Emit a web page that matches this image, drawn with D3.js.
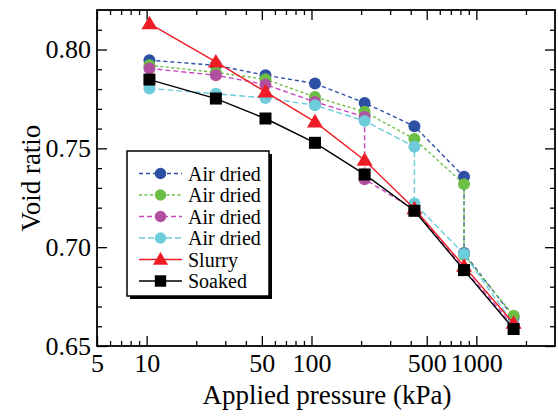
<!DOCTYPE html>
<html>
<head>
<meta charset="utf-8">
<script src="https://cdn.jsdelivr.net/npm/d3@7"></script>
<style>
  html, body { margin: 0; padding: 0; background: #fff; }
  svg { display: block; }
  text { font-family: "Liberation Serif", "Times New Roman", serif; fill: #000; }
</style>
</head>
<body>
<svg id="chart" width="558" height="416"></svg>
<script>
// Void ratio vs applied pressure for each sample preparation
const pressures = [10.4, 26.3, 52.6, 105, 210, 421, 842, 1683];

// Air-dried samples: each one collapses (vertical drop) when soaked at one load step
const airDried1P = [10.4, 26.3, 52.6, 105, 210, 421, 842, 842, 1683];
const airDried1E = [0.7946, 0.792, 0.787, 0.7828, 0.773, 0.7612, 0.7356, 0.697, 0.6645];

const airDried2P = [10.4, 26.3, 52.6, 105, 210, 421, 842, 842, 1683];
const airDried2E = [0.792, 0.7884, 0.785, 0.776, 0.7685, 0.7547, 0.7319, 0.696, 0.6653];

const airDried3P = [10.4, 26.3, 52.6, 105, 210, 210, 421, 842, 1683];
const airDried3E = [0.7904, 0.787, 0.7823, 0.7735, 0.7659, 0.7344, 0.719, 0.689, 0.660];

const airDried4P = [10.4, 26.3, 52.6, 105, 210, 421, 421, 842, 1683];
const airDried4E = [0.7803, 0.7776, 0.7755, 0.7718, 0.7639, 0.7508, 0.7221, 0.6965, 0.661];

const slurryE = [0.8131, 0.7937, 0.7786, 0.7634, 0.744, 0.7195, 0.6904, 0.6615];
const soakedE = [0.7848, 0.7752, 0.7651, 0.7528, 0.7368, 0.7184, 0.6884, 0.6586];

const seriesNames = ["Air dried", "Air dried", "Air dried", "Air dried", "Slurry", "Soaked"];

const xMajorTicks = [5, 10, 50, 100, 500, 1000];
const xMinorTicks = [6, 7, 8, 9, 20, 30, 40, 60, 70, 80, 90, 200, 300, 400, 600, 700, 800, 900, 2000];
const yMajorTicks = [0.65, 0.70, 0.75, 0.80];
const yMinorTicks = [0.66, 0.67, 0.68, 0.69, 0.71, 0.72, 0.73, 0.74, 0.76, 0.77, 0.78, 0.79, 0.81];

const series = [
  { name: seriesNames[0], p: airDried1P, e: airDried1E, color: "#2E50A4", line: "#2E50A4", dash: "4,3", marker: "circle" },
  { name: seriesNames[1], p: airDried2P, e: airDried2E, color: "#6CBE45", line: "#6CBE45", dash: "3,2.5", marker: "circle" },
  { name: seriesNames[2], p: airDried3P, e: airDried3E, color: "#B0509F", line: "#C847C0", dash: "5,3", marker: "circle" },
  { name: seriesNames[3], p: airDried4P, e: airDried4E, color: "#6DCBDA", line: "#6DCBDA", dash: "6,3", marker: "circle" },
  { name: seriesNames[4], p: pressures, e: slurryE, color: "#EE1C25", line: "#EE1C25", dash: null, marker: "triangle" },
  { name: seriesNames[5], p: pressures, e: soakedE, color: "#000000", line: "#000000", dash: null, marker: "square" }
];

const L = 97, R = 555, T = 10, B = 346;
const svg = d3.select("#chart");

const x = d3.scaleLog().domain([5, 3000]).range([L, R]);
const y = d3.scaleLinear().domain([0.65, 0.82]).range([B, T]);

const fmtX = d => String(d);
const fmtY = d3.format(".2f");

function styleAxis(g) {
  g.select(".domain").remove();
  g.selectAll(".tick line").attr("stroke", "#000").attr("stroke-width", 1.3);
  g.selectAll(".tick text").style("font-family", "Liberation Serif").style("font-size", "26px").attr("fill", "#000");
}

// bottom axis
svg.append("g").attr("transform", `translate(0,${B})`)
  .call(d3.axisBottom(x).tickValues(xMajorTicks).tickFormat(fmtX).tickSize(-10).tickPadding(8)).call(styleAxis);
svg.append("g").attr("transform", `translate(0,${B})`)
  .call(d3.axisBottom(x).tickValues(xMinorTicks).tickFormat("").tickSize(-5)).call(styleAxis);
// top axis
svg.append("g").attr("transform", `translate(0,${T})`)
  .call(d3.axisTop(x).tickValues(xMajorTicks).tickFormat("").tickSize(-10)).call(styleAxis);
svg.append("g").attr("transform", `translate(0,${T})`)
  .call(d3.axisTop(x).tickValues(xMinorTicks).tickFormat("").tickSize(-5)).call(styleAxis);
// left axis
svg.append("g").attr("transform", `translate(${L},0)`)
  .call(d3.axisLeft(y).tickValues(yMajorTicks).tickFormat(fmtY).tickSize(-10).tickPadding(6)).call(styleAxis);
svg.append("g").attr("transform", `translate(${L},0)`)
  .call(d3.axisLeft(y).tickValues(yMinorTicks).tickFormat("").tickSize(-5)).call(styleAxis);
// right axis
svg.append("g").attr("transform", `translate(${R},0)`)
  .call(d3.axisRight(y).tickValues(yMajorTicks).tickFormat("").tickSize(-10)).call(styleAxis);
svg.append("g").attr("transform", `translate(${R},0)`)
  .call(d3.axisRight(y).tickValues(yMinorTicks).tickFormat("").tickSize(-5)).call(styleAxis);

// plot frame
svg.append("rect").attr("x", L).attr("y", T).attr("width", R - L).attr("height", B - T)
  .attr("fill", "none").attr("stroke", "#000").attr("stroke-width", 1.8);

// axis titles
svg.append("text").attr("x", 327).attr("y", 404).attr("text-anchor", "middle")
  .style("font-size", "27px").text("Applied pressure (kPa)");
svg.append("text").attr("transform", "translate(40,178) rotate(-90)").attr("text-anchor", "middle")
  .style("font-size", "27px").text("Void ratio");

function drawMarker(g, type, cx, cy, color, scale) {
  const s = scale || 1;
  if (type === "circle") {
    g.append("circle").attr("cx", cx).attr("cy", cy).attr("r", 6 * s).attr("fill", color);
  } else if (type === "triangle") {
    const h = 8 * s;
    g.append("path").attr("d", `M${cx},${cy - h}L${cx + h},${cy + h * 0.7}L${cx - h},${cy + h * 0.7}Z`).attr("fill", color);
  } else {
    const h = 6 * s;
    g.append("rect").attr("x", cx - h).attr("y", cy - h).attr("width", 2 * h).attr("height", 2 * h).attr("fill", color);
  }
}

const line = d3.line().x(d => x(d[0])).y(d => y(d[1]));

series.forEach(s => {
  const pts = s.p.map((p, i) => [p, s.e[i]]);
  const g = svg.append("g");
  g.append("path").attr("d", line(pts)).attr("fill", "none").attr("stroke", s.line)
    .attr("stroke-width", 1.4).attr("stroke-dasharray", s.dash);
  pts.forEach(d => drawMarker(g, s.marker, x(d[0]), y(d[1]), s.color));
});

// legend with drop shadow
const lg = svg.append("g");
const lx = 127, ly = 151, lw = 142, lh = 145;
lg.append("rect").attr("x", lx + 3).attr("y", ly + 3).attr("width", lw).attr("height", lh).attr("fill", "#000");
lg.append("rect").attr("x", lx).attr("y", ly).attr("width", lw).attr("height", lh)
  .attr("fill", "#fff").attr("stroke", "#000").attr("stroke-width", 1.5);
series.forEach((s, i) => {
  const ry = 173.5 + i * 21.5;
  lg.append("line").attr("x1", 139).attr("x2", 182).attr("y1", ry).attr("y2", ry)
    .attr("stroke", s.line).attr("stroke-width", 1.4).attr("stroke-dasharray", s.dash);
  drawMarker(lg, s.marker, 160.5, ry, s.color, 0.95);
  lg.append("text").attr("x", 188).attr("y", ry + 7).style("font-size", "20px").text(s.name);
});
</script>
</body>
</html>
